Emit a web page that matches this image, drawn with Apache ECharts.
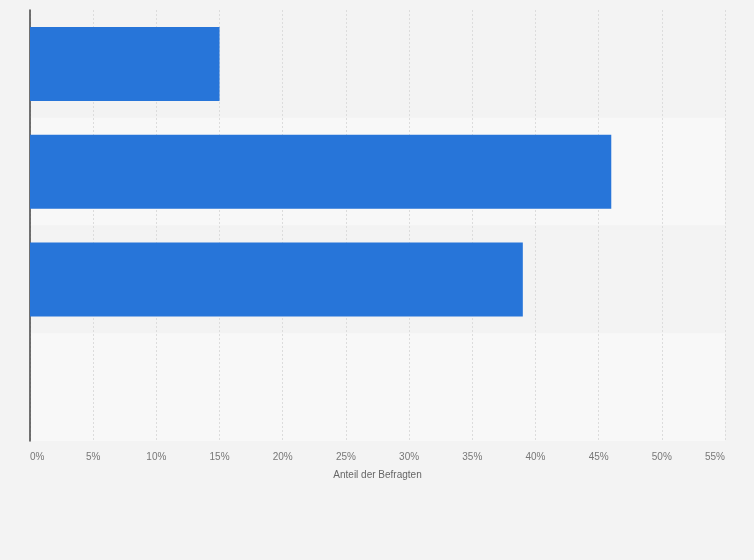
<!DOCTYPE html>
<html>
<head>
<meta charset="utf-8">
<script src="https://cdn.jsdelivr.net/npm/echarts@6/dist/echarts.min.js"></script>
<style>
	html, body { margin: 0; padding: 0; background: #f3f3f3; }
	#Chart { width: 754px; height: 560px; }
</style>
</head>
<body>
<div id="Chart"></div>
<script>
var categories = ['Kategorie 1', 'Kategorie 2', 'Kategorie 3', 'Kategorie 4'];
var shares = [15, 46, 39, 0];
var tickMax = 55;
var tickStep = 5;

var myChart = echarts.init(document.getElementById('Chart'));
var option = {
	backgroundColor: '#f3f3f3',
	animation: false,
	grid: { left: 30, right: 29, top: 10, bottom: 119 },
	xAxis: {
		type: 'value',
		min: 0,
		max: tickMax,
		interval: tickStep,
		name: 'Anteil der Befragten',
		nameLocation: 'middle',
		nameGap: 29,
		nameTextStyle: { color: '#666', fontSize: 10, fontFamily: 'Liberation Sans' },
		axisLine: { show: false },
		axisTick: { show: false },
		axisLabel: {
			color: '#777',
			fontSize: 10,
			fontFamily: 'Liberation Sans',
			margin: 11,
			alignMinLabel: 'left',
			alignMaxLabel: 'right',
			formatter: '{value}%'
		},
		splitLine: { lineStyle: { color: '#dcdcdc', type: [2, 2], width: 1 } }
	},
	yAxis: {
		type: 'category',
		inverse: true,
		data: categories,
		axisLine: { show: true, lineStyle: { color: '#444', width: 1.5 } },
		axisTick: { show: false },
		axisLabel: { show: false },
		splitArea: { show: true, areaStyle: { color: ['#f3f3f3', '#f8f8f8'] } }
	},
	series: [{
		type: 'bar',
		data: shares,
		barWidth: 74,
		itemStyle: { color: '#2775d9' }
	}]
};
myChart.setOption(option, true);
</script>
</body>
</html>
